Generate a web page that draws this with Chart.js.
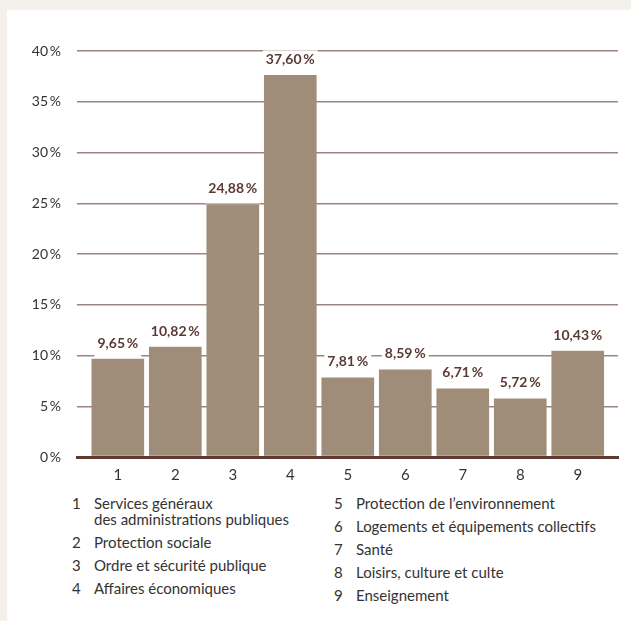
<!DOCTYPE html>
<html>
<head>
<meta charset="utf-8">
<script src="https://cdn.jsdelivr.net/npm/chart.js@4"></script>
<style>
  body { margin: 0; width: 631px; height: 621px; background: #f4f1ec; font-family: Lato, sans-serif; overflow: hidden; }
  #panel { position: absolute; left: 7px; top: 10px; right: 0; bottom: 0; background: #fff; }
  #wrap { position: absolute; left: 0; top: 0; width: 631px; height: 490px; }
  .col { position: absolute; top: 495px; font-size: 15px; line-height: 16px; color: #333; }
  .item { display: flex; margin-bottom: 7px; }
  .num { width: 22px; flex: none; text-align: left; }
</style>
</head>
<body>
<div id="panel"></div>
<div id="wrap"><canvas id="chart" width="631" height="490"></canvas></div>
<div class="col" id="legend1" style="left:72px"></div>
<div class="col" id="legend2" style="left:334px"></div>
<script>
// categories, values and tick labels
const categories = [1, 2, 3, 4, 5, 6, 7, 8, 9];
const values = [9.65, 10.82, 24.88, 37.60, 7.81, 8.59, 6.71, 5.72, 10.43];
const yTicks = [0, 5, 10, 15, 20, 25, 30, 35, 40];
const names = [
    'Services généraux<br>des administrations publiques',
    'Protection sociale',
    'Ordre et sécurité publique',
    'Affaires économiques',
    'Protection de l\u2019environnement',
    'Logements et équipements collectifs',
    'Santé',
    'Loisirs, culture et culte',
    'Enseignement'
];

//legend below the chart
names.forEach(function (n, i) {
    const div = document.createElement('div');
    div.className = 'item';
    div.innerHTML = '<span class="num">' + categories[i] + '</span><span>' + n + '</span>';
    document.getElementById(i < 4 ? 'legend1' : 'legend2').appendChild(div);
});

const fmt = v => v.toFixed(2).replace('.', ',') + '\u2009%';

// value labels with a white box behind them
const labelPlugin = {
    id: 'valueLabels',
    afterDatasetsDraw(chart) {
        const ctx = chart.ctx;
        const meta = chart.getDatasetMeta(0);
        ctx.save();
        ctx.font = 'bold 14px Lato';
        ctx.textAlign = 'center';
        ctx.textBaseline = 'middle';
        meta.data.forEach(function (bar, i) {
            const txt = fmt(values[i]);
            const w = ctx.measureText(txt).width;
            const cy = bar.y - 16;
            ctx.fillStyle = '#ffffff';
            ctx.fillRect(bar.x - w / 2 - 3, cy - 9, w + 6, bar.y - cy + 8);
            ctx.fillStyle = '#5b3a35';
            ctx.fillText(txt, bar.x, cy);
        });
        ctx.restore();
    }
};

const data = {
    datasets: [{
        data: values.map((v, i) => ({ x: categories[i], y: v })),
        backgroundColor: '#9f8d79',
        borderWidth: 0,
        barThickness: 52
    }]
};

const config = {
    type: 'bar',
    data: data,
    options: {
        responsive: false,
        animation: false,
        devicePixelRatio: 1,
        layout: { padding: { top: 51, right: 13, left: 0, bottom: 0 } },
        plugins: { legend: { display: false }, tooltip: { enabled: false } },
        scales: {
            x: {
                type: 'linear',
                offset: false,
                min: 0.29,
                max: 9.7,
                afterBuildTicks: function (scale) {
                    scale.ticks = categories.map(c => ({ value: c }));
                },
                afterFit: function (scale) { scale.height = 33; },
                grid: { display: false, drawTicks: false },
                border: { color: '#5c3a30', width: 3 },
                ticks: {
                    color: '#333',
                    font: { family: 'Lato', size: 15 },
                    padding: 9,
                    callback: v => String(v)
                }
            },
            y: {
                min: 0,
                max: 40,
                afterBuildTicks: function (scale) {
                    scale.ticks = yTicks.map(t => ({ value: t }));
                },
                afterFit: function (scale) { scale.width = 77; },
                border: { display: false },
                grid: {
                    drawTicks: false,
                    color: ctx => ctx.tick.value === 0 ? '#5c3a30' : '#9b8580',
                    lineWidth: ctx => ctx.tick.value === 0 ? 3 : 1.5
                },
                ticks: {
                    color: '#333',
                    font: { family: 'Lato', size: 14 },
                    padding: 16,
                    callback: v => v + '\u2009%'
                }
            }
        }
    },
    plugins: [labelPlugin]
};

new Chart(document.getElementById('chart'), config);
</script>
</body>
</html>
